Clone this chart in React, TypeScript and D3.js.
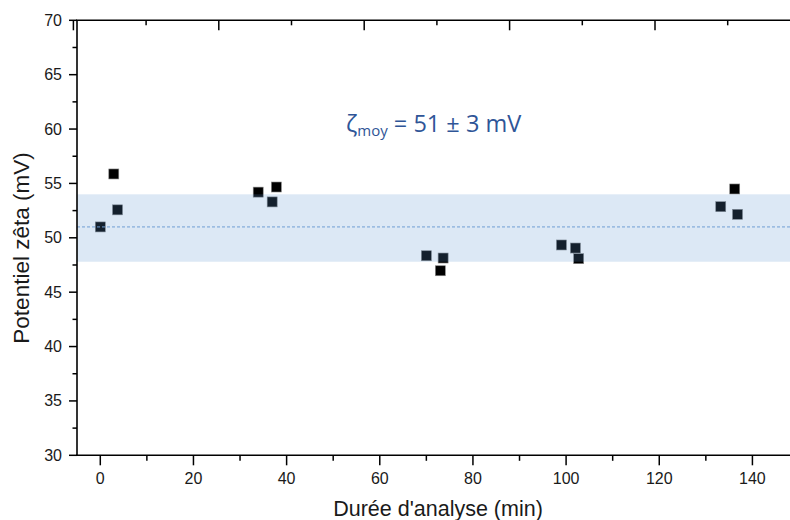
import React from "react";
import * as d3 from "d3";

const timeMin = [0, 2.9, 3.7, 33.9, 37.8, 36.9, 70.0, 73.6, 73.0, 99.0, 102.0, 102.7, 133.2, 136.2, 136.8];
const zetaMv = [51.0, 55.87, 52.57, 54.2, 54.67, 53.3, 48.35, 48.14, 46.97, 49.34, 49.06, 48.08, 52.86, 54.49, 52.16];
const meanZeta = 51;
const bandLow = 47.8;
const bandHigh = 54.0;
const xTicks = [0, 20, 40, 60, 80, 100, 120, 140];
const xMinorTicks = [10, 30, 50, 70, 90, 110, 130, 150];
const yTicks = [30, 35, 40, 45, 50, 55, 60, 65, 70];
const yMinorTicks = [32.5, 37.5, 42.5, 47.5, 52.5, 57.5, 62.5, 67.5];
const topMajor = [0, 1, 2, 3, 4, 5];
const topMinor = [0.5, 1.5, 2.5, 3.5, 4.5];

const W = 790;
const H = 520;
const L = 77;
const R = 799;
const T = 20.3;
const B = 455.3;

export default function App() {
  const x = d3.scaleLinear().domain([-5, 150]).range([L, R]);
  const y = d3.scaleLinear().domain([30, 70]).range([B, T]);
  const xt = d3.scaleLinear().domain([0, 5]).range([73.4, 800.4]);
  const font = "'Liberation Sans', Arial, sans-serif";
  const sq = 10;
  return (
    <svg width={W} height={H} style={{ position: "absolute", left: 0, top: 0, background: "#fff" }}>
      <defs>
        <clipPath id="plot">
          <rect x={L} y={T} width={R - L} height={B - T} />
        </clipPath>
      </defs>
      <g clipPath="url(#plot)">
        {timeMin.map((t, i) => (
          <rect key={i} x={x(t) - sq / 2} y={y(zetaMv[i]) - sq / 2} width={sq} height={sq} fill="#000" stroke="#888" strokeWidth={0.6} />
        ))}
        <rect x={L} y={y(bandHigh)} width={R - L} height={y(bandLow) - y(bandHigh)} fill="#5B94CF" fillOpacity={0.215} />
        <line x1={L} x2={R} y1={y(meanZeta)} y2={y(meanZeta)} stroke="#6f9fd4" strokeWidth={1} strokeDasharray="3,2" />
      </g>
      <line x1={L} x2={L} y1={T} y2={B} stroke="#000" strokeWidth={1.6} />
      <line x1={L - 1} x2={W} y1={B} y2={B} stroke="#000" strokeWidth={1.6} />
      <line x1={L - 1} x2={W} y1={T} y2={T} stroke="#000" strokeWidth={1.6} />
      {xTicks.map((v) => (
        <g key={"xt" + v}>
          <line x1={x(v)} x2={x(v)} y1={B} y2={B + 10} stroke="#000" strokeWidth={1.5} />
          <text x={x(v)} y={484} fontFamily={font} fontSize={16} textAnchor="middle" fill="#1a1a1a">{v}</text>
        </g>
      ))}
      {xMinorTicks.map((v) => (
        <line key={"xm" + v} x1={x(v)} x2={x(v)} y1={B} y2={B + 5.5} stroke="#000" strokeWidth={1.5} />
      ))}
      {topMajor.map((v) => (
        <line key={"tm" + v} x1={xt(v)} x2={xt(v)} y1={T} y2={T + 10} stroke="#000" strokeWidth={1.5} />
      ))}
      {topMinor.map((v) => (
        <line key={"tn" + v} x1={xt(v)} x2={xt(v)} y1={T} y2={T + 5} stroke="#000" strokeWidth={1.5} />
      ))}
      {yTicks.map((v) => (
        <g key={"yt" + v}>
          <line x1={L - 8} x2={L} y1={y(v)} y2={y(v)} stroke="#000" strokeWidth={1.5} />
          <text x={62} y={y(v) + 5.5} fontFamily={font} fontSize={16} textAnchor="end" fill="#1a1a1a">{v}</text>
        </g>
      ))}
      {yMinorTicks.map((v) => (
        <line key={"ym" + v} x1={L - 4.5} x2={L} y1={y(v)} y2={y(v)} stroke="#000" strokeWidth={1.5} />
      ))}
      <text x={438} y={515.5} fontFamily={font} fontSize={21.5} textAnchor="middle" fill="#1a1a1a">Durée d'analyse (min)</text>
      <text transform={`translate(29,${248}) rotate(-90)`} fontFamily={font} fontSize={22.5} textAnchor="middle" fill="#1a1a1a">Potentiel zêta (mV)</text>
      <text x={346} y={132} fontFamily="'Open Sans', Lato, sans-serif" fontSize={23.5} fill="#2F5597">
        ζ<tspan fontSize={15} dy={4}>moy</tspan><tspan dy={-4}> = 51 ± 3 mV</tspan>
      </text>
    </svg>
  );
}
